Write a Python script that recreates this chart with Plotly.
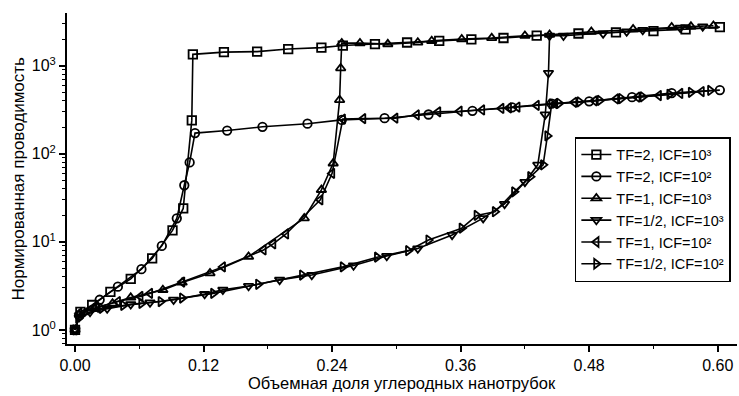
import plotly.graph_objects as go

# TF=2, ICF=10^3 (squares)
x_sq = [0, 0.005, 0.016, 0.033, 0.052, 0.072, 0.091, 0.101, 0.109, 0.110, 0.139, 0.170, 0.199, 0.230,
        0.250, 0.280, 0.310, 0.340, 0.370, 0.400, 0.431, 0.470, 0.505, 0.540, 0.570, 0.602]
y_sq = [1.0, 1.6, 1.92, 2.7, 3.8, 6.5, 13.5, 24, 240, 1350, 1430, 1450, 1550, 1610,
        1700, 1760, 1840, 1920, 2000, 2070, 2200, 2330, 2400, 2480, 2600, 2750]

# TF=2, ICF=10^2 (circles)
x_ci = [0, 0.004, 0.023, 0.040, 0.062, 0.081, 0.095, 0.102, 0.107, 0.112, 0.142, 0.175, 0.217, 0.249,
        0.289, 0.330, 0.371, 0.408, 0.445, 0.480, 0.520, 0.557, 0.602]
y_ci = [1.0, 1.45, 2.2, 3.1, 4.9, 9.0, 18.5, 44, 80, 172, 184, 203, 220, 243,
        254, 280, 308, 338, 372, 395, 440, 490, 530]

# TF=1, ICF=10^3 (up triangles)
x_tu = [0, 0.004, 0.018, 0.035, 0.052, 0.082, 0.100, 0.126, 0.162, 0.214, 0.230, 0.241, 0.247, 0.248,
        0.249, 0.266, 0.292, 0.320, 0.333, 0.361, 0.389, 0.420, 0.443, 0.482, 0.521, 0.557, 0.575, 0.596]
y_tu = [1.0, 1.5, 1.75, 2.0, 2.33, 2.85, 3.45, 4.4, 6.8, 18.6, 39, 78, 410, 940,
        1810, 1810, 1765, 1840, 1920, 2010, 2070, 2200, 2250, 2440, 2600, 2750, 2800, 2850]

# TF=1/2, ICF=10^3 (down triangles)
x_td = [0, 0.004, 0.014, 0.030, 0.052, 0.070, 0.092, 0.121, 0.138, 0.162, 0.191, 0.221, 0.260, 0.291,
        0.320, 0.352, 0.381, 0.401, 0.420, 0.432, 0.439, 0.442, 0.443, 0.456, 0.493, 0.515, 0.530, 0.565, 0.586]
y_td = [1.0, 1.4, 1.6, 1.75, 1.95, 2.05, 2.2, 2.55, 2.85, 3.15, 3.7, 4.2, 5.4, 6.9,
        8.4, 12, 18.6, 27, 48, 75, 280, 830, 2200, 2200, 2330, 2450, 2550, 2700, 2800]

# TF=1, ICF=10^2 (left triangles)
x_tl = [0, 0.004, 0.020, 0.040, 0.061, 0.070, 0.100, 0.138, 0.176, 0.185, 0.197, 0.229, 0.240, 0.250,
        0.269, 0.299, 0.319, 0.339, 0.359, 0.380, 0.398, 0.405, 0.413, 0.431, 0.448, 0.466, 0.485,
        0.505, 0.525, 0.545, 0.565, 0.585]
y_tl = [1.0, 1.55, 1.8, 2.1, 2.4, 2.6, 3.5, 5.2, 8.1, 9.5, 12.3, 30, 60, 248,
        251, 254, 277, 300, 305, 315, 328, 332, 340, 355, 372, 385, 400,
        420, 440, 460, 485, 510]

# TF=1/2, ICF=10^2 (right triangles)
x_tr = [0, 0.003, 0.025, 0.045, 0.062, 0.080, 0.100, 0.129, 0.171, 0.212, 0.250, 0.282, 0.311, 0.330,
        0.361, 0.375, 0.392, 0.410, 0.425, 0.437, 0.441, 0.445, 0.452, 0.471, 0.490, 0.510, 0.530,
        0.555, 0.575, 0.593]
y_tr = [1.0, 1.36, 1.76, 1.9, 2.0, 2.1, 2.3, 2.6, 3.3, 4.2, 5.2, 6.7, 7.95, 10.5,
        14.3, 20, 22, 37, 55, 75, 160, 370, 375, 390, 405, 425, 445,
        475, 500, 525]

legend_names = ["TF=2, ICF=10³", "TF=2, ICF=10²", "TF=1, ICF=10³",
                "TF=1/2, ICF=10³", "TF=1, ICF=10²", "TF=1/2, ICF=10²"]
symbols = ["square-open", "circle-open", "triangle-up-open", "triangle-down-open",
           "triangle-left-open", "triangle-right-open"]
xs = [x_sq, x_ci, x_tu, x_td, x_tl, x_tr]
ys = [y_sq, y_ci, y_tu, y_td, y_tl, y_tr]

x_ticks = [0.0, 0.12, 0.24, 0.36, 0.48, 0.60]
x_tick_text = ["0.00", "0.12", "0.24", "0.36", "0.48", "0.60"]
y_ticks = [1, 10, 100, 1000]
y_tick_text = ["10<sup>0</sup>", "10<sup>1</sup>", "10<sup>2</sup>", "10<sup>3</sup>"]
y_minor = [m * 10 ** e for e in range(-1, 4) for m in range(2, 10)]

x_title = "Объемная доля углеродных нанотрубок"
y_title = "Нормированная проводимость"

fig = go.Figure()
for x, y, name, sym in zip(xs, ys, legend_names, symbols):
    fig.add_trace(go.Scatter(
        x=x, y=y, name=name, mode="lines+markers",
        line=dict(color="black", width=1.6),
        marker=dict(symbol=sym, size=8.5, color="black", line=dict(width=1.8, color="black")),
    ))

font = "Liberation Sans, Arial, sans-serif"
fig.update_layout(
    width=739, height=396,
    margin=dict(l=67, r=2, t=13, b=52, autoexpand=False),
    paper_bgcolor="white", plot_bgcolor="white",
    font=dict(family=font, size=16, color="black"),
    showlegend=True,
    legend=dict(x=0.758, y=0.625, xanchor="left", yanchor="top",
                bordercolor="black", borderwidth=1.5, bgcolor="white",
                font=dict(size=14.5), tracegroupgap=0, itemwidth=30),
    annotations=[
        dict(text=x_title, xref="paper", yref="paper", x=0.5, y=0, yshift=-39,
             xanchor="center", yanchor="middle", showarrow=False, font=dict(size=16.5)),
        dict(text=y_title, xref="paper", yref="paper", x=0, y=0.5, xshift=-49,
             xanchor="center", yanchor="middle", textangle=-90, showarrow=False, font=dict(size=17)),
    ],
)
fig.update_xaxes(
    range=[-0.0075, 0.618], showgrid=False, zeroline=False, automargin=False,
    showline=True, linecolor="black", linewidth=2,
    tickmode="array", tickvals=x_ticks, ticktext=x_tick_text,
    ticks="outside", ticklen=6, tickwidth=1.5, tickcolor="black",
    minor=dict(tickmode="array", tickvals=[0.06, 0.18, 0.30, 0.42, 0.54],
               ticks="outside", ticklen=3, tickwidth=1.2, tickcolor="black"),
    tickfont=dict(size=16),
)
fig.update_yaxes(
    type="log", range=[-0.16, 3.60], showgrid=False, zeroline=False, automargin=False,
    showline=True, linecolor="black", linewidth=2,
    tickmode="array", tickvals=y_ticks, ticktext=y_tick_text,
    ticks="outside", ticklen=6, tickwidth=1.5, tickcolor="black",
    minor=dict(tickmode="array", tickvals=y_minor,
               ticks="outside", ticklen=3, tickwidth=1.2, tickcolor="black"),
    tickfont=dict(size=16),
)
fig.write_html("out.html", config={"displayModeBar": False},
               post_script="document.body.style.margin='0';document.body.style.padding='0';")
